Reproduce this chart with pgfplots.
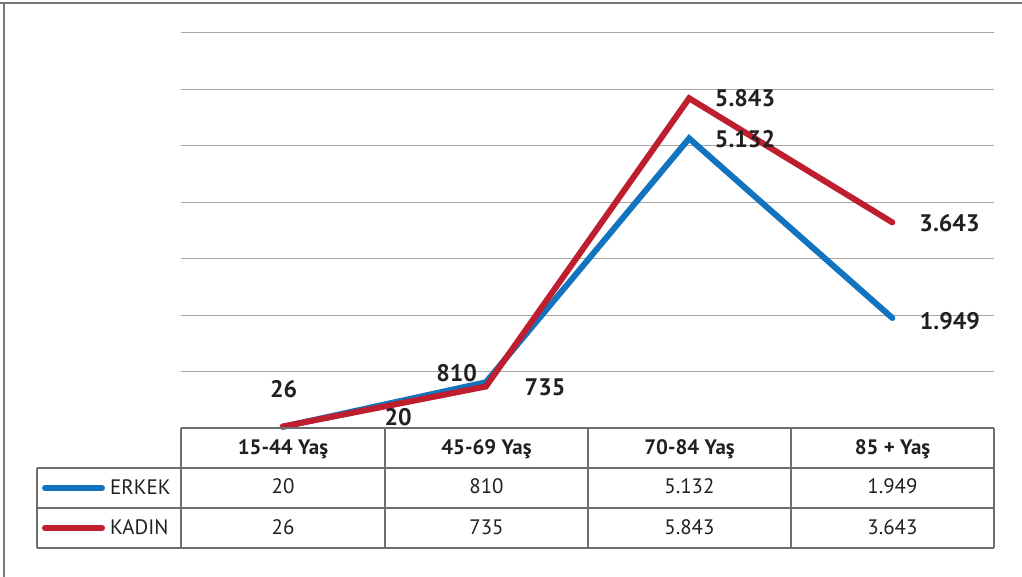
\documentclass[border=0pt]{standalone}
\usepackage{pgfplots}
\pgfplotsset{compat=1.18}
\usepackage{fontspec}
\setmainfont{PT Sans}
\definecolor{erkek}{RGB}{18,115,190}
\definecolor{kadin}{RGB}{190,30,45}
\definecolor{txt}{RGB}{35,31,32}
\definecolor{tbl}{RGB}{110,110,110}
\definecolor{frm}{RGB}{120,120,120}
\newcommand{\lbl}{\bfseries\fontsize{24}{24}\selectfont}
\newcommand{\tb}{\fontsize{21}{21}\selectfont}
\begin{document}
\begin{tikzpicture}[x=1bp,y=1bp]
\useasboundingbox (0,0) rectangle (1022,577);
\draw[frm, line width=1.5bp] (0,574) -- (1022,574);
\draw[frm, line width=1.5bp] (4,574.75) -- (4,0);
\begin{axis}[at={(181bp,149bp)}, anchor=south west, scale only axis,
  width=813bp, height=395bp, xmin=-0.5, xmax=3.5, ymin=0, ymax=7000,
  ytick={0,1000,...,7000}, xtick=\empty, yticklabels={},
  ymajorgrids, grid style={line width=1bp, color=gray!70},
  axis line style={draw=none}, tick style={draw=none}, clip=false]
\addplot[erkek, line width=6bp, line join=miter, line cap=round] coordinates {(0,20) (1,810) (2,5132) (3,1949)};
\addplot[kadin, line width=6bp, line join=miter, line cap=round] coordinates {(0,26) (1,735) (2,5843) (3,3643)};
\node[txt, font=\lbl, anchor=base] at (axis cs:0.005,532) {26};
\node[txt, font=\lbl, anchor=base] at (axis cs:0.568,53) {20};
\node[txt, font=\lbl, anchor=base] at (axis cs:0.856,821) {810};
\node[txt, font=\lbl, anchor=base] at (axis cs:1.291,572) {735};
\node[txt, font=\lbl, anchor=base] at (axis cs:2.275,5694) {5.843};
\node[txt, font=\lbl, anchor=base] at (axis cs:2.275,4967) {5.132};
\node[txt, font=\lbl, anchor=base] at (axis cs:3.281,3491) {3.643};
\node[txt, font=\lbl, anchor=base] at (axis cs:3.283,1737) {1.949};
\end{axis}
% table
\begin{scope}[tbl, line width=1.5bp]
\draw (181,149) -- (994,149);
\draw (37,109) -- (994,109);
\draw (37,69) -- (994,69);
\draw (37,29) -- (994,29);
\draw (37,109) -- (37,29);
\foreach \xx in {181,385,588,791,994} {\draw (\xx,149) -- (\xx,29);}
\end{scope}
\draw[erkek, line width=6bp, line cap=round] (45,89) -- (102,89);
\draw[kadin, line width=6bp, line cap=round] (45,49) -- (102,49);
\node[txt, font=\tb, anchor=base west, inner sep=0pt] at (110,82) {ERKEK};
\node[txt, font=\tb, anchor=base west, inner sep=0pt] at (110,42) {KADIN};
\foreach \cx/\h/\a/\b in {283/15-44 Yaş/20/26, 486.5/45-69 Yaş/810/735, 689.5/70-84 Yaş/5.132/5.843, 892.5/85 + Yaş/1.949/3.643} {
  \node[txt, font=\tb\bfseries, anchor=base, inner sep=0pt] at (\cx,122) {\h};
  \node[txt, font=\tb, anchor=base, inner sep=0pt] at (\cx,83) {\a};
  \node[txt, font=\tb, anchor=base, inner sep=0pt] at (\cx,42) {\b};
}
\end{tikzpicture}
\end{document}
